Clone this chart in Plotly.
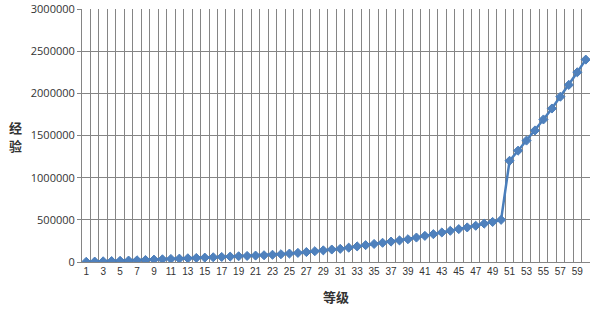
import plotly.graph_objects as go

levels = list(range(1, 61))
exp_values = [
    2000, 5000, 8000, 11000, 14000, 17000, 20000, 24000, 28000, 32000,
    36000, 40000, 44000, 48000, 52000, 56000, 60000, 64000, 68000, 72000,
    76000, 80000, 86000, 92000, 100000, 108000, 118000, 128000, 138000, 148000,
    156000, 170000, 185000, 200000, 214000, 228000, 242000, 256000, 270000, 290000,
    310000, 330000, 350000, 370000, 390000, 410000, 430000, 455000, 475000, 500000,
    1200000, 1320000, 1440000, 1560000, 1690000, 1820000, 1960000, 2100000, 2250000, 2400000,
]
x_tick_labels = [str(v) for v in range(1, 61, 2)]
y_tick_values = [0, 500000, 1000000, 1500000, 2000000, 2500000, 3000000]

grid = "#858585"
txt = "#333333"

fig = go.Figure()
fig.add_trace(go.Scatter(
    x=levels, y=exp_values, mode="lines+markers",
    line=dict(color="#4a7ebb", width=2.5),
    marker=dict(symbol="diamond", size=7, color="#4f81bd",
                line=dict(color="#4a7ebb", width=1)),
    showlegend=False,
))

L, R, T, B = 82, 10, 9, 48
pw = 600 - L - R
ph = 310 - T - B


def px(x):
    return (x - L) / pw


def py(y):
    return (310 - B - y) / ph


title_font = dict(size=13, family="Noto Sans CJK SC", color=txt)

fig.update_layout(
    width=600, height=310,
    margin=dict(l=L, r=R, t=T, b=B),
    paper_bgcolor="white", plot_bgcolor="white",
    font=dict(family="Liberation Sans, Arial", color=txt),
    xaxis=dict(
        range=[0.5, 60.5], tickmode="array", automargin=False,
        tickvals=[int(v) for v in x_tick_labels], ticktext=x_tick_labels,
        showgrid=False, ticks="", showline=True, linecolor=grid, linewidth=1,
        tickfont=dict(size=10, family="Liberation Sans", color=txt),
        minor=dict(tick0=0.5, dtick=1, showgrid=True, gridcolor=grid,
                   gridwidth=1, ticks=""),
        zeroline=False, mirror=False,
    ),
    yaxis=dict(
        range=[0, 3000000], tickmode="array", tickvals=y_tick_values,
        ticktext=[str(v) for v in y_tick_values], automargin=False,
        showgrid=True, gridcolor=grid, gridwidth=1,
        ticks="outside", ticklen=4, tickcolor=grid,
        showline=True, linecolor=grid, linewidth=1,
        tickfont=dict(size=11, family="Open Sans", color=txt),
        zeroline=False,
    ),
    annotations=[
        dict(text="<b>经</b>", x=px(15), y=py(128), xref="paper", yref="paper",
             xanchor="center", yanchor="middle", showarrow=False, font=title_font),
        dict(text="<b>验</b>", x=px(15), y=py(145), xref="paper", yref="paper",
             xanchor="center", yanchor="middle", showarrow=False, font=title_font),
        dict(text="<b>等级</b>", x=px(336), y=py(296), xref="paper", yref="paper",
             xanchor="center", yanchor="middle", showarrow=False, font=title_font),
    ],
)

fig.write_html("out.html")
